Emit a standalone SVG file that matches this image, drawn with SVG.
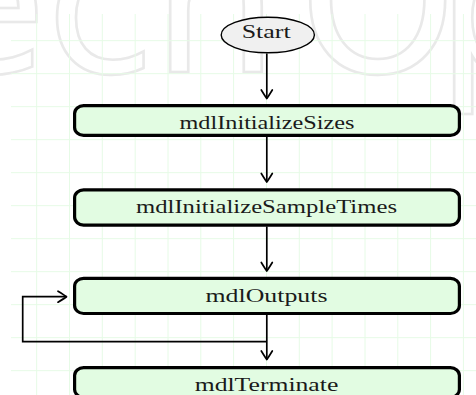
<svg xmlns="http://www.w3.org/2000/svg" width="476" height="395" viewBox="0 0 476 395">
  <defs>
    <marker id="to" markerUnits="userSpaceOnUse" markerWidth="16" markerHeight="16" refX="0" refY="0" viewBox="-12 -8 14 16" orient="auto" overflow="visible">
      <path d="M -8.5 -5.5 Q -2 -1.5 0 0 Q -2 1.5 -8.5 5.5" fill="none" stroke="#000" stroke-width="1.7" stroke-linecap="round" stroke-linejoin="round"/>
    </marker>
  </defs>
  <style>
    .grid line { stroke: #e6fbe6; stroke-width: 1; }
    .wm { font-family: "DejaVu Sans", sans-serif; font-size: 200px; fill: none; stroke: #e9e9e9; stroke-width: 2.6; }
    .box { fill: #e2fce2; stroke: #000; stroke-width: 3.2; }
    .start { fill: #f0f0f0; stroke: #000; stroke-width: 1.4; }
    .lbl { font-family: "Liberation Serif", "Times New Roman", serif; font-size: 19px; fill: #1a1a1a; text-anchor: middle; }
    .conn { fill: none; stroke: #000; stroke-width: 1.7; }
  </style>
  <rect width="476" height="395" fill="#ffffff"/>
  <text class="wm" y="72"><tspan x="-76">e</tspan><tspan x="46">c</tspan><tspan x="152">h</tspan><tspan x="299">O</tspan><tspan x="436">p</tspan></text>
  <g class="grid">
    <line x1="36.7" y1="14" x2="36.7" y2="395"/>
    <line x1="69.5" y1="14" x2="69.5" y2="395"/>
    <line x1="102.3" y1="14" x2="102.3" y2="395"/>
    <line x1="135.2" y1="14" x2="135.2" y2="395"/>
    <line x1="168" y1="14" x2="168" y2="395"/>
    <line x1="200.8" y1="14" x2="200.8" y2="395"/>
    <line x1="233.6" y1="14" x2="233.6" y2="395"/>
    <line x1="266.5" y1="14" x2="266.5" y2="395"/>
    <line x1="299.3" y1="14" x2="299.3" y2="395"/>
    <line x1="332.1" y1="14" x2="332.1" y2="395"/>
    <line x1="365" y1="14" x2="365" y2="395"/>
    <line x1="397.8" y1="14" x2="397.8" y2="395"/>
    <line x1="430.6" y1="14" x2="430.6" y2="395"/>
    <line x1="463.4" y1="14" x2="463.4" y2="395"/>
    <line x1="11" y1="40.7" x2="476" y2="40.7"/>
    <line x1="11" y1="73.7" x2="476" y2="73.7"/>
    <line x1="11" y1="106.7" x2="476" y2="106.7"/>
    <line x1="11" y1="139.7" x2="476" y2="139.7"/>
    <line x1="11" y1="172.7" x2="476" y2="172.7"/>
    <line x1="11" y1="205.7" x2="476" y2="205.7"/>
    <line x1="11" y1="238.7" x2="476" y2="238.7"/>
    <line x1="11" y1="271.7" x2="476" y2="271.7"/>
    <line x1="11" y1="304.7" x2="476" y2="304.7"/>
    <line x1="11" y1="337.7" x2="476" y2="337.7"/>
    <line x1="11" y1="370.7" x2="476" y2="370.7"/>
  </g>
  <g id="connectors">
    <line class="conn" x1="266.8" y1="53.5" x2="266.8" y2="98.5" marker-end="url(#to)"/>
    <line class="conn" x1="266.8" y1="137" x2="266.8" y2="182" marker-end="url(#to)"/>
    <line class="conn" x1="266.8" y1="226.5" x2="266.8" y2="271" marker-end="url(#to)"/>
    <line class="conn" x1="266.8" y1="315" x2="266.8" y2="359.5" marker-end="url(#to)"/>
    <polyline class="conn" points="266.8,341.7 22.7,341.7 22.7,296.7 66.5,296.7" marker-end="url(#to)"/>
  </g>
  <g id="start">
    <ellipse class="start" cx="267.8" cy="35" rx="46.6" ry="17.8"/>
    <text class="lbl" x="266.2" y="37.7" textLength="49" lengthAdjust="spacingAndGlyphs">Start</text>
  </g>
  <g id="mdlInitializeSizes">
    <rect class="box" x="74.6" y="105.6" width="384.8" height="29.8" rx="9" ry="8"/>
    <text class="lbl" x="267" y="129" textLength="175" lengthAdjust="spacingAndGlyphs">mdlInitializeSizes</text>
  </g>
  <g id="mdlInitializeSampleTimes">
    <rect class="box" x="74.6" y="189.9" width="384.8" height="35.2" rx="9" ry="8"/>
    <text class="lbl" x="266.5" y="213.3" textLength="261" lengthAdjust="spacingAndGlyphs">mdlInitializeSampleTimes</text>
  </g>
  <g id="mdlOutputs">
    <rect class="box" x="74.6" y="278.3" width="384.8" height="35.2" rx="9" ry="8"/>
    <text class="lbl" x="266.5" y="301.7" textLength="122" lengthAdjust="spacingAndGlyphs">mdlOutputs</text>
  </g>
  <g id="mdlTerminate">
    <rect class="box" x="74.6" y="367.6" width="384.8" height="29.8" rx="9" ry="8"/>
    <text class="lbl" x="266.5" y="391" textLength="143.6" lengthAdjust="spacingAndGlyphs">mdlTerminate</text>
  </g>
</svg>
